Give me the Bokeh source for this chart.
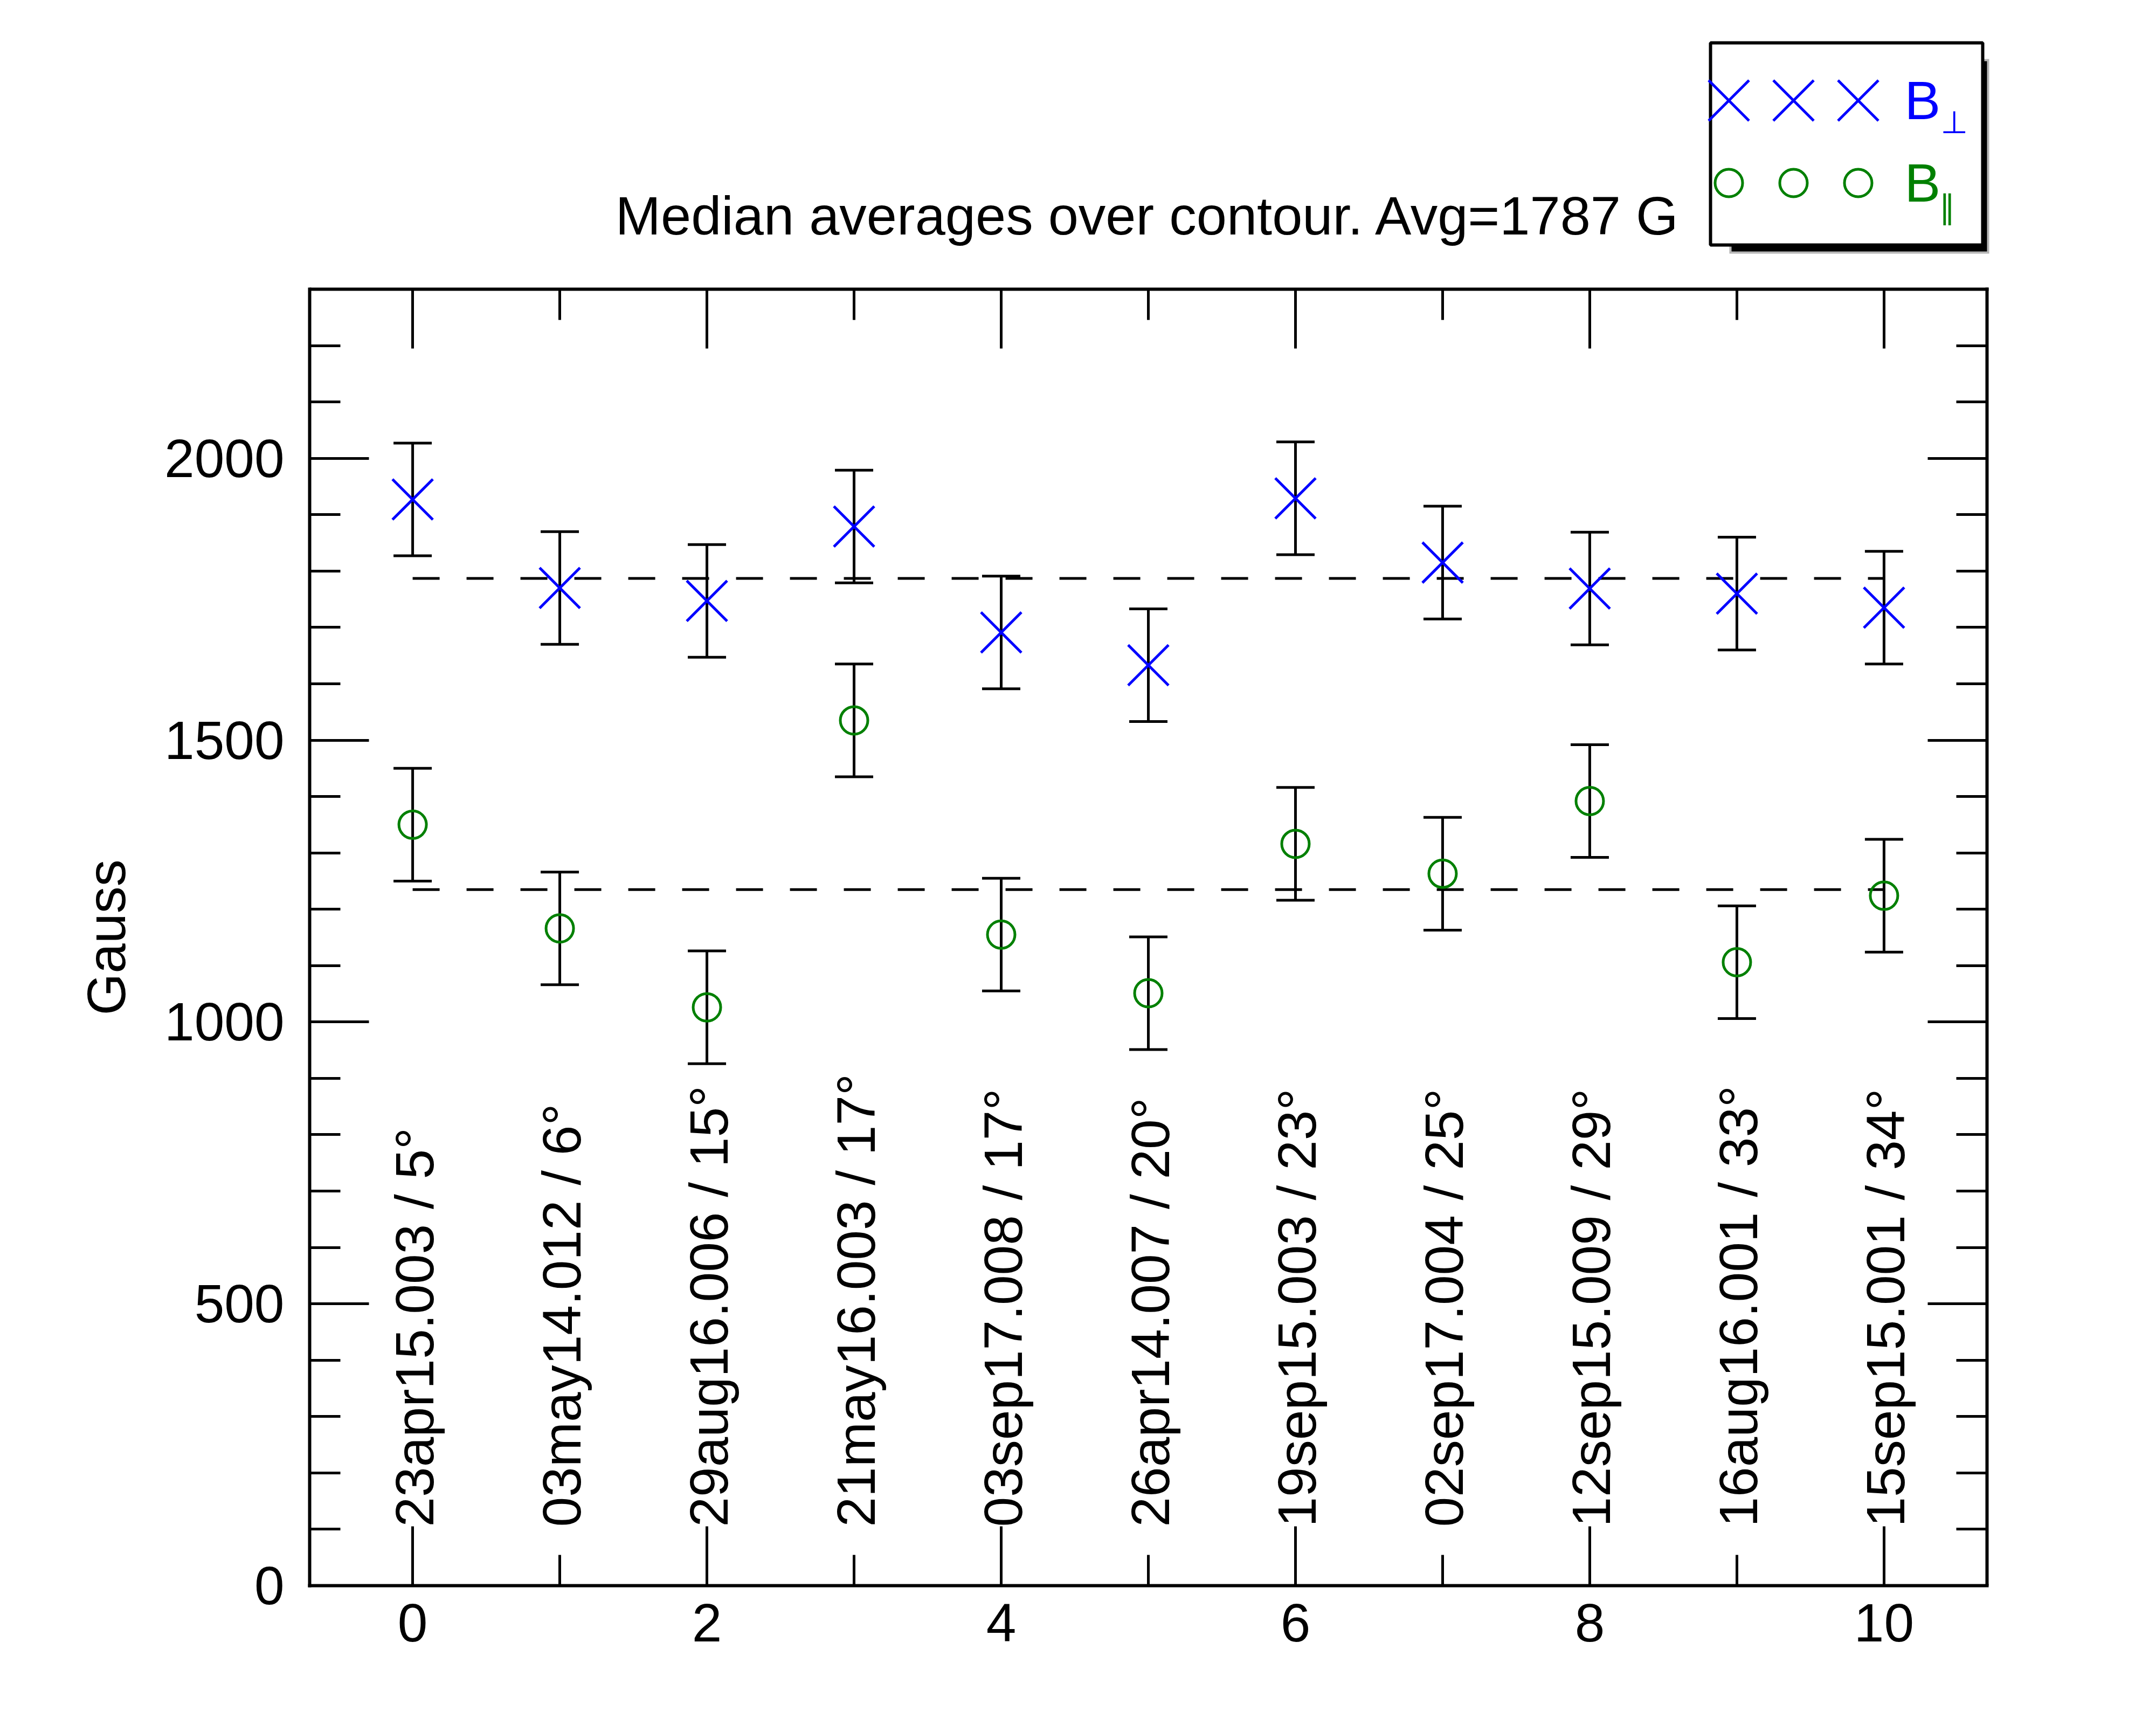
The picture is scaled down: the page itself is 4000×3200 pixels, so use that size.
import numpy as np
from bokeh.plotting import figure
from bokeh.models import (ColumnDataSource, Range1d, LinearAxis, Whisker, TeeHead,
                          Label, Title, SingleIntervalTicker)
from bokeh.embed import file_html
from bokeh.resources import INLINE
from bokeh.core.properties import value

# ---------------- data ----------------
index = [0, 1, 2, 3, 4, 5, 6, 7, 8, 9, 10]
obs_labels = ["23apr15.003 / 5°", "03may14.012 / 6°", "29aug16.006 / 15°",
              "21may16.003 / 17°", "03sep17.008 / 17°", "26apr14.007 / 20°",
              "19sep15.003 / 23°", "02sep17.004 / 25°", "12sep15.009 / 29°",
              "16aug16.001 / 33°", "15sep15.001 / 34°"]
b_perp = [1927, 1770, 1747, 1879, 1691, 1633, 1929, 1815, 1769, 1760, 1735]
b_perp_err = [100, 100, 100, 100, 100, 100, 100, 100, 100, 100, 100]
b_par = [1350, 1166, 1026, 1535, 1155, 1051, 1316, 1263, 1392, 1106, 1224]
b_par_err = [100, 100, 100, 100, 100, 100, 100, 100, 100, 100, 100]
title_text = "Median averages over contour. Avg=1787 G"
y_label = "Gauss"
legend_perp_sub = "\u22a5"
legend_par_sub = "\u2225"

# ---------------- layout (page pixels) ----------------
PAGE = 0
FIG_W, FIG_H = 3984, 3184
PLOT_L, PLOT_R, PLOT_T, PLOT_B = 574, 3686, 536, 2941
FRAME_T, FRAME_R = 40, 3702
X0, X1 = -0.7, 10.7
Y0, Y1 = 0, 2300
FONT = "Liberation Sans"
BLUE = "#0000ff"
GREEN = "#008000"
BASE_FIX = 0.37  # empirical shift of the alphabetic baseline, in em

ppx = (PLOT_R - PLOT_L) / (X1 - X0)
ppy = (PLOT_B - PLOT_T) / (Y1 - Y0)


def px2x(px):
    return X0 + (px - PLOT_L) / ppx


def py2y(py):
    return Y0 + (PLOT_B - py) / ppy


p = figure(width=FIG_W, height=FIG_H,
           x_range=Range1d(X0, px2x(FRAME_R)), y_range=Range1d(Y0, py2y(FRAME_T)),
           output_backend="svg", toolbar_location=None, title_location=None,
           min_border_left=PLOT_L - PAGE, min_border_right=PAGE + FIG_W - FRAME_R,
           min_border_top=FRAME_T - PAGE, min_border_bottom=PAGE + FIG_H - PLOT_B)
p.grid.visible = False
p.outline_line_color = None
p.background_fill_color = "white"
p.border_fill_color = "white"


def style_axis(ax, show_labels):
    ax.axis_line_width = 6
    ax.axis_line_color = "black"
    ax.axis_line_cap = "square"
    ax.major_tick_line_width = 5
    ax.minor_tick_line_width = 5
    ax.major_tick_in = 110
    ax.major_tick_out = 0
    ax.minor_tick_in = 57
    ax.minor_tick_out = 0
    if show_labels:
        ax.major_label_text_font = FONT
        ax.major_label_text_font_size = "100px"
        ax.major_label_text_color = "black"
    else:
        ax.major_label_text_font_size = "0px"
        ax.major_label_text_color = None


bottom = p.xaxis[0]
left = p.yaxis[0]
bottom.ticker = SingleIntervalTicker(interval=2, num_minor_ticks=2)
left.ticker = SingleIntervalTicker(interval=500, num_minor_ticks=5)
bottom.bounds = (X0, X1)
left.bounds = (Y0, Y1)
style_axis(bottom, True)
style_axis(left, True)
bottom.major_label_standoff = 34
left.major_label_standoff = 47

top = LinearAxis(ticker=SingleIntervalTicker(interval=2, num_minor_ticks=2),
                 fixed_location=Y1, bounds=(X0, X1))
right = LinearAxis(ticker=SingleIntervalTicker(interval=500, num_minor_ticks=5),
                   fixed_location=X1, bounds=(Y0, Y1))
style_axis(top, False)
style_axis(right, False)
p.add_layout(top, "above")
p.add_layout(right, "right")

# y axis title, placed along the plot area
p.add_layout(Title(text=y_label, align="left", offset=PLOT_B - 1883,
                   standoff=100, text_font=FONT, text_font_size="100px",
                   text_font_style="normal", text_color="black"), "left")

# mean reference lines
for series in (b_perp, b_par):
    m = float(np.mean(series))
    p.line(x=[index[0], index[-1]], y=[m, m], line_color="black",
           line_width=5, line_dash="50 50")

# error bars
for vals, errs in ((b_perp, b_perp_err), (b_par, b_par_err)):
    src = ColumnDataSource(dict(x=index,
                                upper=[v + e for v, e in zip(vals, errs)],
                                lower=[v - e for v, e in zip(vals, errs)]))
    p.add_layout(Whisker(base="x", upper="upper", lower="lower", source=src,
                         dimension="height", line_width=5, line_color="black",
                         upper_head=TeeHead(size=71, line_width=5, line_color="black"),
                         lower_head=TeeHead(size=71, line_width=5, line_color="black")))

# markers (bokeh's x marker is inscribed in a circle of diameter `size`)
X_SIZE = 75 * np.sqrt(2)
p.scatter(x=index, y=b_perp, marker="x", size=X_SIZE, line_color=BLUE, line_width=5)
p.scatter(x=index, y=b_par, marker="circle", size=51, fill_color=None,
          line_color=GREEN, line_width=5)

# rotated observation labels
p.text(x=index, y=py2y(2832), text=obs_labels, angle=np.pi / 2,
       x_offset=40 - 100 * BASE_FIX,
       text_align="left", text_baseline="alphabetic", text_color="black",
       text_font=value(FONT), text_font_size="100px")

# title
p.add_layout(Label(x=(X0 + X1) / 2, y=py2y(437 - 101 * BASE_FIX), text=title_text,
                   text_align="center", text_baseline="alphabetic",
                   text_font=FONT, text_font_size="101px", text_color="black"))

# legend box with shadow
LL, LR, LT, LB = 3173, 3678, 79, 454
p.quad(left=px2x(LL + 35), right=px2x(LR + 12), top=py2y(LT + 30), bottom=py2y(LB + 16),
       fill_color="black", fill_alpha=0.3, line_color=None)
p.quad(left=px2x(LL + 38), right=px2x(LR + 9), top=py2y(LT + 33), bottom=py2y(LB + 13),
       fill_color="black", line_color="#bbbbbb", line_width=2)
p.quad(left=px2x(LL), right=px2x(LR), top=py2y(LT), bottom=py2y(LB),
       fill_color="white", line_color="black", line_width=6)

leg_x = [px2x(3207), px2x(3327), px2x(3447)]
p.scatter(x=leg_x, y=py2y(186), marker="x", size=X_SIZE, line_color=BLUE, line_width=5)
p.scatter(x=leg_x, y=py2y(339), marker="circle", size=51, fill_color=None,
          line_color=GREEN, line_width=5)
p.add_layout(Label(x=px2x(3533), y=py2y(222 - 100 * BASE_FIX), text="B", text_align="left",
                   text_baseline="alphabetic", text_font=FONT,
                   text_font_size="100px", text_color=BLUE))
p.add_layout(Label(x=px2x(3600), y=py2y(248 - 58 * BASE_FIX), text=legend_perp_sub,
                   text_align="left", text_baseline="alphabetic", text_font="DejaVu Sans",
                   text_font_size="58px", text_color=BLUE))
p.add_layout(Label(x=px2x(3533), y=py2y(375 - 100 * BASE_FIX), text="B", text_align="left",
                   text_baseline="alphabetic", text_font=FONT,
                   text_font_size="100px", text_color=GREEN))
p.add_layout(Label(x=px2x(3597), y=py2y(406 - 60 * BASE_FIX), text=legend_par_sub,
                   text_align="left", text_baseline="alphabetic", text_font="DejaVu Sans",
                   text_font_size="60px", text_color=GREEN))

open("out.html", "w").write(file_html(p, INLINE))
